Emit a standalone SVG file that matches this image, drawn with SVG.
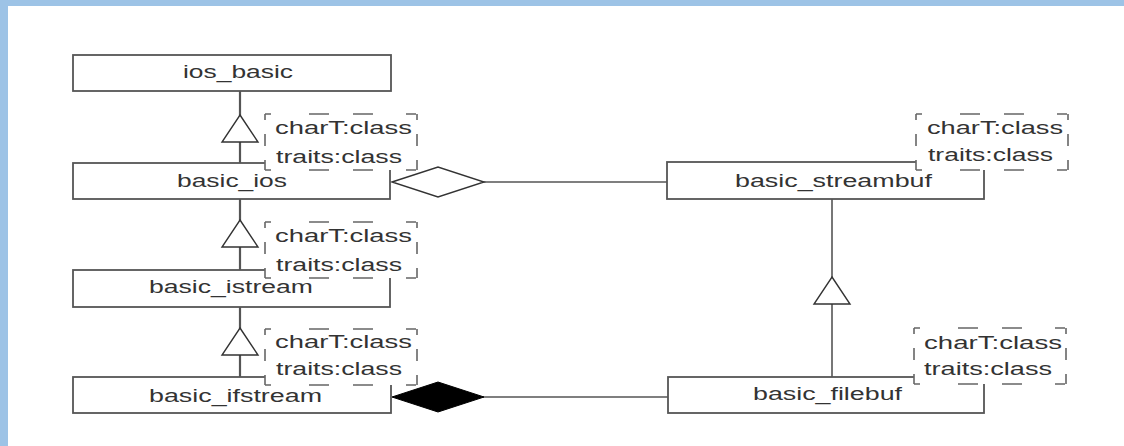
<svg xmlns="http://www.w3.org/2000/svg" xmlns:xlink="http://www.w3.org/1999/xlink" width="1124" height="446" viewBox="0 0 1124 446">
<style>
.cls{fill:#fff;stroke:#555;stroke-width:1.8}
.tplh{fill:none;stroke:#666;stroke-width:1.6;stroke-dasharray:6 38 20 24 20 33 10}
.tplv{fill:none;stroke:#666;stroke-width:1.6;stroke-dasharray:6 14 12 14 10}
.t{font-family:"Liberation Sans",Arial,sans-serif;font-size:17.5px;fill:#333}
.ln{stroke:#555;stroke-width:1.6;fill:none}
.vl{stroke:#555;stroke-width:2.2;fill:none}
.tri{fill:#fff;stroke:#333;stroke-width:1.4}
</style>
<defs>
<g id="tplbox">
<rect x="0" y="0" width="152" height="56" fill="#fff"/>
<path class="tplh" d="M0,0H152M0,56H152"/>
<path class="tplv" d="M0,0V56M152,0V56"/>
</g>
</defs>
<rect x="0" y="0" width="1124" height="446" fill="#fff"/>
<rect x="0" y="0" width="1124" height="6" fill="#9DC3E6"/>
<rect x="0" y="0" width="8" height="446" fill="#9DC3E6"/>
<g id="connectors">
<line class="vl" x1="240" y1="91" x2="240" y2="163"/>
<polygon class="tri" points="240,115 258,142 222,142"/>
<line class="vl" x1="240" y1="199" x2="240" y2="270"/>
<polygon class="tri" points="240,220 258,247 222,247"/>
<line class="vl" x1="240" y1="307" x2="240" y2="377"/>
<polygon class="tri" points="240,328 258,355 222,355"/>
<line class="ln" x1="832" y1="199" x2="832" y2="377"/>
<polygon class="tri" points="832,277 850,304 814,304"/>
<line class="ln" x1="483" y1="182" x2="667" y2="182"/>
<polygon class="tri" points="392,182 438,167 484,182 438,197"/>
<line class="ln" x1="483" y1="397" x2="668" y2="397"/>
<polygon points="392,397 438,382 484,397 438,412" fill="#000" stroke="#000" stroke-width="1"/>
</g>
<g id="ios_basic">
<rect class="cls" x="73" y="55" width="318" height="36"/>
<text class="t" x="183" y="78" textLength="110" lengthAdjust="spacingAndGlyphs">ios_basic</text>
</g>
<g id="basic_ios">
<rect class="cls" x="73" y="163" width="317" height="36"/>
<text class="t" x="177" y="187" textLength="110" lengthAdjust="spacingAndGlyphs">basic_ios</text>
<use xlink:href="#tplbox" href="#tplbox" x="265" y="114"/>
<text class="t" x="275" y="134" textLength="137" lengthAdjust="spacingAndGlyphs">charT:class</text>
<text class="t" x="276" y="163" textLength="126" lengthAdjust="spacingAndGlyphs">traits:class</text>
</g>
<g id="basic_istream">
<rect class="cls" x="73" y="270" width="317" height="37"/>
<text class="t" x="149" y="293" textLength="164" lengthAdjust="spacingAndGlyphs">basic_istream</text>
<use xlink:href="#tplbox" href="#tplbox" x="265" y="222"/>
<text class="t" x="275" y="242" textLength="137" lengthAdjust="spacingAndGlyphs">charT:class</text>
<text class="t" x="276" y="271" textLength="126" lengthAdjust="spacingAndGlyphs">traits:class</text>
</g>
<g id="basic_ifstream">
<rect class="cls" x="73" y="377" width="318" height="36"/>
<text class="t" x="149" y="402" textLength="173" lengthAdjust="spacingAndGlyphs">basic_ifstream</text>
<use xlink:href="#tplbox" href="#tplbox" x="265" y="329"/>
<text class="t" x="275" y="348" textLength="137" lengthAdjust="spacingAndGlyphs">charT:class</text>
<text class="t" x="276" y="375" textLength="126" lengthAdjust="spacingAndGlyphs">traits:class</text>
</g>
<g id="basic_streambuf">
<rect class="cls" x="667" y="162" width="317" height="37"/>
<text class="t" x="735" y="187" textLength="197" lengthAdjust="spacingAndGlyphs">basic_streambuf</text>
<use xlink:href="#tplbox" href="#tplbox" x="916" y="114"/>
<text class="t" x="927" y="134" textLength="136" lengthAdjust="spacingAndGlyphs">charT:class</text>
<text class="t" x="928" y="161" textLength="125" lengthAdjust="spacingAndGlyphs">traits:class</text>
</g>
<g id="basic_filebuf">
<rect class="cls" x="668" y="377" width="316" height="36"/>
<text class="t" x="753" y="400" textLength="149" lengthAdjust="spacingAndGlyphs">basic_filebuf</text>
<use xlink:href="#tplbox" href="#tplbox" x="914" y="328"/>
<text class="t" x="924" y="349" textLength="138" lengthAdjust="spacingAndGlyphs">charT:class</text>
<text class="t" x="924" y="375" textLength="128" lengthAdjust="spacingAndGlyphs">traits:class</text>
</g>
</svg>
